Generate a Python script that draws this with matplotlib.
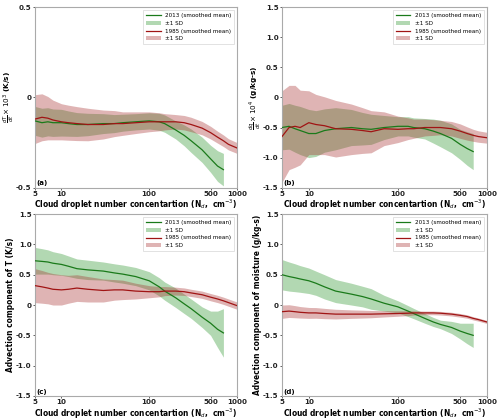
import matplotlib
matplotlib.use("Agg")
import matplotlib.pyplot as plt
import numpy as np
from matplotlib.ticker import FixedLocator, FixedFormatter, NullLocator

plt.rcParams['font.family'] = ['DejaVu Sans']
plt.rcParams['axes.unicode_minus'] = False

# ---------------- data ----------------
x_2013 = [5, 6, 7, 8, 10, 12, 15, 20, 30, 40, 50, 70, 100, 130, 150, 200, 250, 300, 400, 500, 600, 700]
x_1985 = [5, 6, 7, 8, 10, 12, 15, 20, 30, 40, 50, 70, 100, 130, 150, 200, 250, 300, 400, 500, 600, 700, 800, 1000]

# panel (a): dT/dt x 1e3
a_mean_2013 = [-0.13, -0.14, -0.135, -0.14, -0.14, -0.145, -0.15, -0.15, -0.145, -0.145, -0.14, -0.135, -0.13, -0.135, -0.145, -0.18, -0.21, -0.24, -0.29, -0.34, -0.38, -0.40]
a_sd_2013 = [0.08, 0.08, 0.078, 0.076, 0.074, 0.07, 0.066, 0.062, 0.055, 0.05, 0.047, 0.045, 0.045, 0.047, 0.048, 0.05, 0.058, 0.065, 0.07, 0.075, 0.085, 0.09]
a_mean_1985 = [-0.12, -0.11, -0.115, -0.125, -0.135, -0.14, -0.145, -0.15, -0.15, -0.145, -0.145, -0.14, -0.135, -0.135, -0.135, -0.135, -0.14, -0.15, -0.17, -0.195, -0.22, -0.24, -0.26, -0.28]
a_sd_1985 = [0.135, 0.13, 0.12, 0.11, 0.1, 0.097, 0.094, 0.09, 0.08, 0.072, 0.065, 0.06, 0.055, 0.05, 0.045, 0.04, 0.04, 0.04, 0.037, 0.035, 0.033, 0.032, 0.031, 0.03]

# panel (b): dq/dt x 1e4
b_mean_2013 = [-0.5, -0.48, -0.52, -0.55, -0.6, -0.6, -0.55, -0.52, -0.5, -0.52, -0.53, -0.5, -0.48, -0.48, -0.5, -0.52, -0.56, -0.6, -0.68, -0.78, -0.85, -0.9]
b_sd_2013 = [0.37, 0.38, 0.39, 0.4, 0.4, 0.38, 0.36, 0.35, 0.3, 0.27, 0.25, 0.2, 0.16, 0.16, 0.16, 0.17, 0.2, 0.22, 0.24, 0.25, 0.28, 0.3]
b_mean_1985 = [-0.65, -0.5, -0.48, -0.5, -0.42, -0.45, -0.47, -0.52, -0.53, -0.55, -0.57, -0.52, -0.53, -0.52, -0.52, -0.5, -0.5, -0.5, -0.52, -0.56, -0.6, -0.63, -0.65, -0.67]
b_sd_1985 = [0.76, 0.7, 0.68, 0.62, 0.53, 0.5, 0.48, 0.47, 0.42, 0.38, 0.35, 0.28, 0.22, 0.18, 0.16, 0.14, 0.13, 0.12, 0.12, 0.12, 0.11, 0.1, 0.095, 0.09]

# panel (c): advection component of T
c_mean_2013 = [0.73, 0.72, 0.71, 0.69, 0.67, 0.64, 0.6, 0.58, 0.56, 0.53, 0.51, 0.47, 0.40, 0.3, 0.23, 0.12, 0.02, -0.06, -0.2, -0.3, -0.4, -0.46]
c_sd_2013 = [0.22, 0.21, 0.2, 0.19, 0.18, 0.17, 0.16, 0.16, 0.15, 0.15, 0.15, 0.15, 0.15, 0.15, 0.15, 0.16, 0.16, 0.16, 0.17, 0.2, 0.3, 0.4]
c_mean_1985 = [0.32, 0.3, 0.28, 0.26, 0.25, 0.26, 0.28, 0.26, 0.24, 0.25, 0.25, 0.23, 0.22, 0.22, 0.23, 0.23, 0.22, 0.2, 0.17, 0.13, 0.1, 0.07, 0.04, -0.01]
c_sd_1985 = [0.28, 0.27, 0.26, 0.26, 0.25, 0.23, 0.22, 0.21, 0.19, 0.17, 0.16, 0.13, 0.1, 0.085, 0.075, 0.065, 0.062, 0.06, 0.06, 0.06, 0.06, 0.06, 0.06, 0.06]

# panel (d): advection component of moisture
d_mean_2013 = [0.5, 0.47, 0.45, 0.43, 0.4, 0.36, 0.3, 0.23, 0.18, 0.14, 0.1, 0.03, -0.03, -0.1, -0.14, -0.22, -0.28, -0.32, -0.37, -0.43, -0.47, -0.5]
d_sd_2013 = [0.25, 0.24, 0.23, 0.22, 0.21, 0.2, 0.2, 0.19, 0.18, 0.17, 0.17, 0.13, 0.1, 0.09, 0.085, 0.08, 0.075, 0.07, 0.1, 0.13, 0.17, 0.2]
d_mean_1985 = [-0.11, -0.1, -0.11, -0.12, -0.13, -0.13, -0.14, -0.15, -0.15, -0.15, -0.15, -0.145, -0.14, -0.135, -0.13, -0.13, -0.13, -0.135, -0.15, -0.17, -0.19, -0.22, -0.24, -0.28]
d_sd_1985 = [0.11, 0.105, 0.1, 0.095, 0.09, 0.088, 0.085, 0.08, 0.07, 0.065, 0.06, 0.052, 0.045, 0.04, 0.035, 0.03, 0.03, 0.03, 0.03, 0.03, 0.028, 0.027, 0.026, 0.025]

x_ticks = [5, 10, 100, 500, 1000]
x_ticklabels = ['5', '10', '100', '500', '1000']
panel_letters = ['(a)', '(b)', '(c)', '(d)']
ylabels = [r'$\frac{dT}{dt}\times10^{3}$ (K/s)',
           r'$\frac{dq}{dt}\times10^{4}$ (g/kg-s)',
           'Advection component of T (K/s)',
           'Advection component of moisture (g/kg-s)']
xlabel = r'Cloud droplet number concentartion (N$_d$,  cm$^{-3}$)'

# ---------------- figure ----------------
fig = plt.figure(figsize=(5.0, 4.19), dpi=100)
positions = [
    [0.070, 0.552, 0.404, 0.431],
    [0.564, 0.552, 0.410, 0.431],
    [0.070, 0.055, 0.404, 0.434],
    [0.564, 0.055, 0.410, 0.434],
]

panels = [
    (a_mean_2013, a_sd_2013, a_mean_1985, a_sd_1985, (-0.5, 0.5), [-0.5, 0, 0.5], ['-0.5', '0', '0.5']),
    (b_mean_2013, b_sd_2013, b_mean_1985, b_sd_1985, (-1.5, 1.5), [-1.5, -1, -0.5, 0, 0.5, 1, 1.5], ['-1.5', '-1.0', '-0.5', '0', '0.5', '1.0', '1.5']),
    (c_mean_2013, c_sd_2013, c_mean_1985, c_sd_1985, (-1.5, 1.5), [-1.5, -1, -0.5, 0, 0.5, 1, 1.5], ['-1.5', '-1.0', '-0.5', '0', '0.5', '1.0', '1.5']),
    (d_mean_2013, d_sd_2013, d_mean_1985, d_sd_1985, (-1.5, 1.5), [-1.5, -1, -0.5, 0, 0.5, 1, 1.5], ['-1.5', '-1.0', '-0.5', '0', '0.5', '1.0', '1.5']),
]

fs = 5.1
lfs = 5.45
for i, (m13, s13, m85, s85, ylim, yt, ytl) in enumerate(panels):
    ax = fig.add_axes(positions[i])
    m13 = np.array(m13); s13 = np.array(s13)
    m85 = np.array(m85); s85 = np.array(s85)
    ax.plot(x_2013, m13, color='#1a7a1a', lw=0.9, label='2013 (smoothed mean)', zorder=3)
    ax.fill_between(x_2013, m13 - s13, m13 + s13, color='green', alpha=0.3, lw=0, label='±1 SD', zorder=1)
    ax.plot(x_1985, m85, color='#a01414', lw=0.9, label='1985 (smoothed mean)', zorder=3)
    ax.fill_between(x_1985, m85 - s85, m85 + s85, color='brown', alpha=0.35, lw=0, label='±1 SD', zorder=1)
    ax.set_xscale('log')
    ax.set_xlim(5, 1000)
    ax.set_ylim(*ylim)
    ax.xaxis.set_major_locator(FixedLocator(x_ticks))
    ax.xaxis.set_major_formatter(FixedFormatter(x_ticklabels))
    ax.xaxis.set_minor_locator(NullLocator())
    ax.set_yticks(yt)
    ax.set_yticklabels(ytl)
    for lab in ax.get_xticklabels() + ax.get_yticklabels():
        lab.set_fontweight('bold')
        lab.set_fontsize(fs)
    ax.tick_params(axis='both', length=1.5, width=0.5, pad=1, colors='#222222')
    for sp in ax.spines.values():
        sp.set_color('#aaaaaa')
        sp.set_linewidth(0.8)
    ax.set_xlabel(xlabel, fontsize=lfs, fontweight='bold', labelpad=0.5)
    if i < 2:
        ax.set_ylabel(ylabels[i], fontsize=lfs - 0.2, fontweight='bold', labelpad=0)
    else:
        ax.set_ylabel(ylabels[i], fontsize=lfs, fontweight='bold', labelpad=1)
    ax.text(0.005, 0.008, panel_letters[i], transform=ax.transAxes, fontsize=fs,
            fontweight='bold', ha='left', va='bottom')
    leg = ax.legend(loc='upper right', fontsize=4.1, frameon=True, fancybox=False,
                    borderpad=0.5, handlelength=2.5, labelspacing=0.5)
    leg.get_frame().set_edgecolor('#cccccc')
    leg.get_frame().set_linewidth(0.5)

fig.savefig('out.png', dpi=100)
